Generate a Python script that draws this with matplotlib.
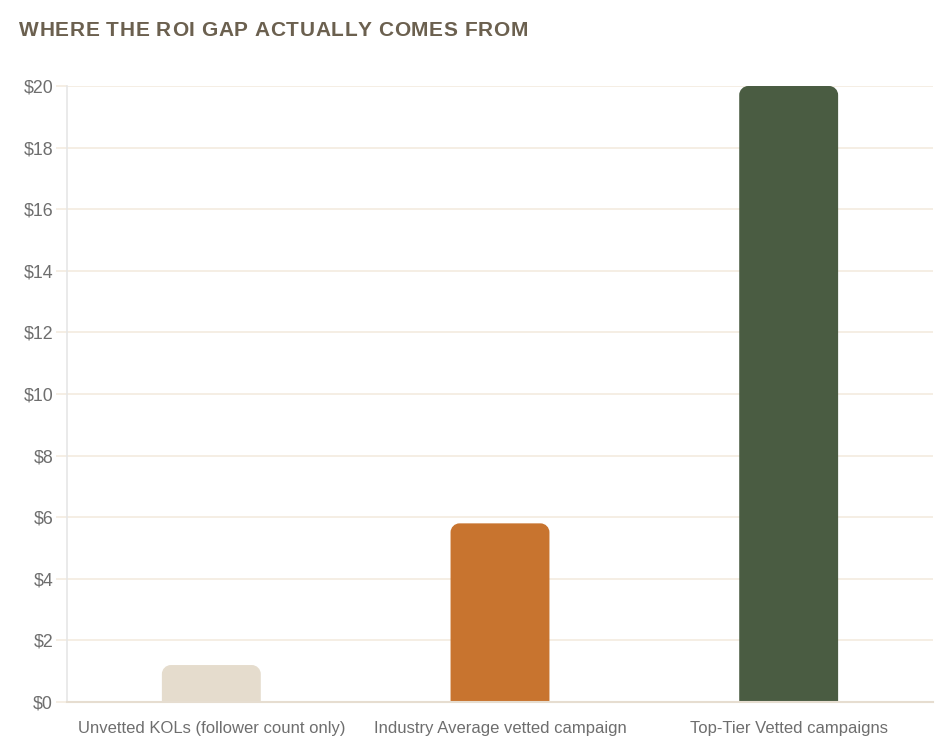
import matplotlib
matplotlib.use("Agg")
import matplotlib.pyplot as plt
from matplotlib.path import Path
from matplotlib.patches import PathPatch
from matplotlib.font_manager import FontProperties, findfont, get_font

categories = ["Unvetted KOLs (follower count only)",
              "Industry Average vetted campaign",
              "Top-Tier Vetted campaigns"]
values = [1.2, 5.8, 20]
colors = ["#e5dccd", "#c8742f", "#4a5c42"]
yticks = [0, 2, 4, 6, 8, 10, 12, 14, 16, 18, 20]
ytick_labels = ["$" + str(v) for v in yticks]
title = "WHERE THE ROI GAP ACTUALLY COMES FROM"

plt.rcParams['font.family'] = ['Liberation Sans', 'DejaVu Sans']

W, H = 941, 749
DPI = 100
fig = plt.figure(figsize=(W / DPI, H / DPI), dpi=DPI)
left, right, top, bottom = 67, 933, 86, 702
ax = fig.add_axes([left / W, (H - bottom) / H, (right - left) / W, (bottom - top) / H])
ax.set_xlim(-0.5, 2.5)
ax.set_ylim(0, 20)

bars = ax.bar(range(len(categories)), values, width=0.3426, color=colors, zorder=2)

# rounded top corners
r_px = 9
rx = r_px * 3 / (right - left)
ry = r_px * 20 / (bottom - top)
k = 0.5523
for b, c in zip(bars, colors):
    x0, y0 = b.get_x(), b.get_y()
    w, h = b.get_width(), b.get_height()
    x1, y1 = x0 + w, y0 + h
    verts = [(x0, y0), (x0, y1 - ry),
             (x0, y1 - ry + k * ry), (x0 + rx - k * rx, y1), (x0 + rx, y1),
             (x1 - rx, y1),
             (x1 - rx + k * rx, y1), (x1, y1 - ry + k * ry), (x1, y1 - ry),
             (x1, y0), (x0, y0)]
    codes = [Path.MOVETO, Path.LINETO,
             Path.CURVE4, Path.CURVE4, Path.CURVE4,
             Path.LINETO,
             Path.CURVE4, Path.CURVE4, Path.CURVE4,
             Path.LINETO, Path.CLOSEPOLY]
    b.set_visible(False)
    ax.add_patch(PathPatch(Path(verts, codes), facecolor=c, edgecolor='none', zorder=2))

ax.set_yticks(yticks)
ax.set_yticklabels(ytick_labels)
ax.set_xticks(range(len(categories)))
ax.set_xticklabels(categories)

grid_color = "#f4ebdf"
ax.yaxis.grid(True, color=grid_color, linewidth=1.2, zorder=0)
ax.set_axisbelow(True)
ax.tick_params(axis='y', length=8, width=1.2, color=grid_color, labelcolor="#6e6e6e",
               labelsize=12.75, pad=2)
ax.tick_params(axis='x', length=0, labelcolor="#6e6e6e", labelsize=12, pad=14)
for lab in ax.get_yticklabels():
    lab.set_y(lab.get_position()[1])

for s in ['top', 'right']:
    ax.spines[s].set_visible(False)
ax.spines['left'].set_color("#e6e6e6")
ax.spines['left'].set_linewidth(1.2)
ax.spines['bottom'].set_color("#e6ddd0")
ax.spines['bottom'].set_linewidth(1.5)

# title with letter spacing
tsize = 15
spacing_px = 0.6
prop = FontProperties(family='Liberation Sans', weight='bold', size=tsize)
font = get_font(findfont(prop))
font.set_size(tsize, DPI)
x = 19.0
for ch in title:
    fig.text(x / W, 1 - 36.5 / H, ch, fontproperties=prop, color="#6b604f",
             ha='left', va='baseline')
    g = font.load_char(ord(ch))
    x += g.linearHoriAdvance / 65536 + spacing_px

fig.savefig("out.png", dpi=DPI, facecolor='white')
